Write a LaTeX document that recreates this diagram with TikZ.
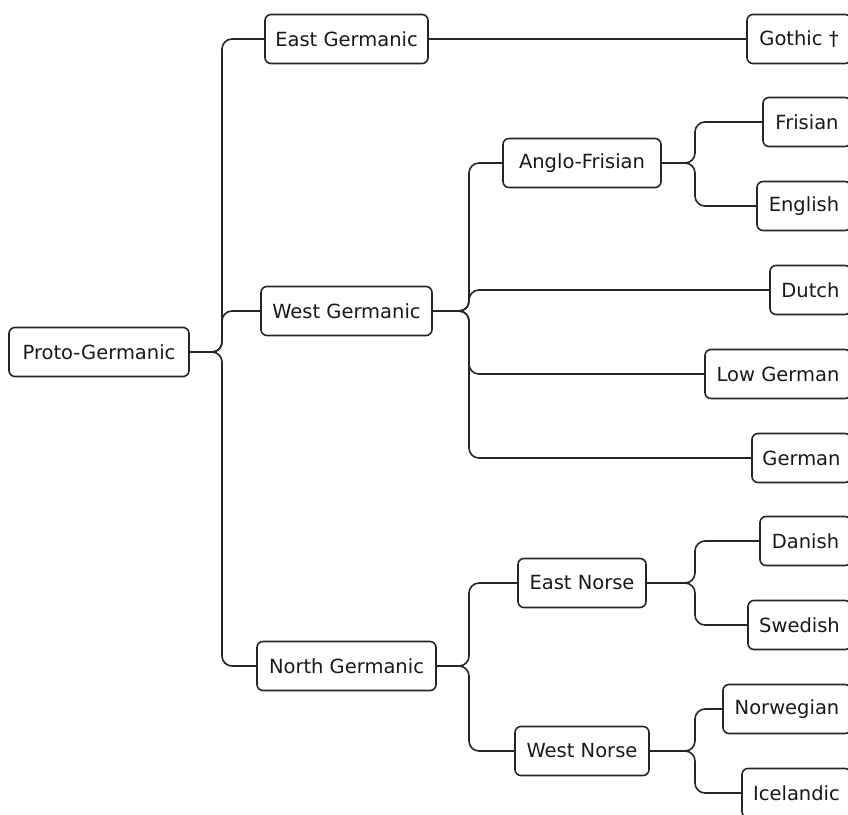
\documentclass[tikz,border=0pt]{standalone}
\usepackage{fontspec}
\setmainfont{DejaVu Sans}
\begin{document}
\begin{tikzpicture}[x=1pt,y=-1pt,
  box/.style={draw=black!85, line width=1.6pt, rounded corners=6pt, fill=white,
    minimum height=49pt, inner sep=0pt, font=\fontsize{19.5}{22}\selectfont, text=black!90},
  conn/.style={draw=black!85, line width=1.6pt, rounded corners=10pt}]
\useasboundingbox (0,0) rectangle (848,814);
\clip (0,0) rectangle (848,814);
\newcommand{\nd}[5]{\node[box, minimum width={#3-#2}] (#1) at ({(#2+#3)/2},#4) {#5};}
% trunks
\coordinate (tA) at (222,0);
\coordinate (tB) at (469,0);
\coordinate (tC) at (695,0);
% nodes
\nd{PG}{9}{189}{352}{Proto-Germanic}
\nd{EG}{265}{428}{39}{East Germanic}
\nd{WG}{261}{432}{311}{West Germanic}
\nd{NG}{257}{436}{666}{North Germanic}
\nd{AF}{503}{661}{163}{Anglo-Frisian}
\nd{EN}{518}{646}{583}{East Norse}
\nd{WN}{515}{649}{751}{West Norse}
\nd{Go}{747}{851}{39}{Gothic †}
\nd{Fr}{763}{851}{122}{Frisian}
\nd{En}{757}{851}{206}{English}
\nd{Du}{770}{851}{290}{Dutch}
\nd{LG}{705}{851}{374}{Low German}
\nd{Ge}{752}{851}{458}{German}
\nd{Da}{760}{851}{541}{Danish}
\nd{Sw}{748}{851}{625}{Swedish}
\nd{No}{723}{851}{709}{Norwegian}
\nd{Ic}{742}{851}{793}{Icelandic}
% connectors
\foreach \c in {EG,WG,NG} \draw[conn] (PG.east) -- (PG.east -| tA) |- (\c.west);
\draw[conn] (EG.east) -- (Go.west);
\foreach \c in {AF,Du,LG,Ge} \draw[conn] (WG.east) -- (WG.east -| tB) |- (\c.west);
\foreach \c in {EN,WN} \draw[conn] (NG.east) -- (NG.east -| tB) |- (\c.west);
\foreach \c in {Fr,En} \draw[conn] (AF.east) -- (AF.east -| tC) |- (\c.west);
\foreach \c in {Da,Sw} \draw[conn] (EN.east) -- (EN.east -| tC) |- (\c.west);
\foreach \c in {No,Ic} \draw[conn] (WN.east) -- (WN.east -| tC) |- (\c.west);
\end{tikzpicture}
\end{document}
